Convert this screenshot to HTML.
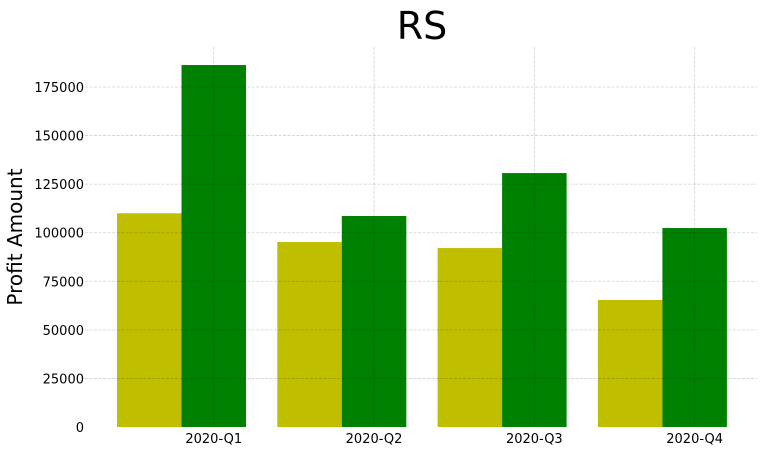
<!DOCTYPE html>
<html><head><meta charset="utf-8"><style>
body{margin:0;background:#fff;}
text{font-family:"DejaVu Sans",sans-serif;}
</style></head><body>
<svg id="chart" width="763" height="452">
<text x="422" y="39" font-size="38" text-anchor="middle">RS</text>
<text transform="translate(22,237) rotate(-90)" font-size="20" text-anchor="middle">Profit Amount</text>
<g id="bars"></g><g id="grid"></g><g id="labels"></g>
</svg>
<script>
const categories=["2020-Q1","2020-Q2","2020-Q3","2020-Q4"];
const seriesA=[110000,95200,92100,65400];
const seriesB=[186300,108600,130700,102400];
const yTicks=[0,25000,50000,75000,100000,125000,150000,175000];
const ns="http://www.w3.org/2000/svg";
const y0=427,pxPer=340/175000;
function yS(v){return y0-v*pxPer;}
function xS(i){return 117+i*160.3;}
const bw=64.5;
const bars=document.getElementById('bars'),grid=document.getElementById('grid'),labels=document.getElementById('labels');
function mk(tag,attrs,parent){const e=document.createElementNS(ns,tag);for(const k in attrs)e.setAttribute(k,attrs[k]);parent.appendChild(e);return e;}
categories.forEach((c,i)=>{
  let a=mk('rect',{x:xS(i),y:yS(seriesA[i]),width:bw,height:y0-yS(seriesA[i]),fill:'#bfbf00'},bars);
  
  
  let b=mk('rect',{x:xS(i)+bw,y:yS(seriesB[i]),width:bw,height:y0-yS(seriesB[i]),fill:'#008000'},bars);
  
  
  const cx=xS(i)+bw*1.5;
  mk('line',{x1:cx,x2:cx,y1:47,y2:427,stroke:'rgba(0,0,0,0.18)','stroke-width':0.8,'stroke-dasharray':'3,1.5'},grid);
  let t=mk('text',{x:cx,y:443,'font-size':13,'text-anchor':'middle'},labels);
  t.textContent=c;
  
  
});
yTicks.forEach(v=>{
  if(v>0) mk('line',{x1:85,x2:757,y1:yS(v),y2:yS(v),stroke:'rgba(0,0,0,0.18)','stroke-width':0.8,'stroke-dasharray':'3,1.5'},grid);
  let t=mk('text',{x:84,y:yS(v)+5,'font-size':13,'text-anchor':'end'},labels);
  t.textContent=v;
  
  
});
</script>
</body></html>
